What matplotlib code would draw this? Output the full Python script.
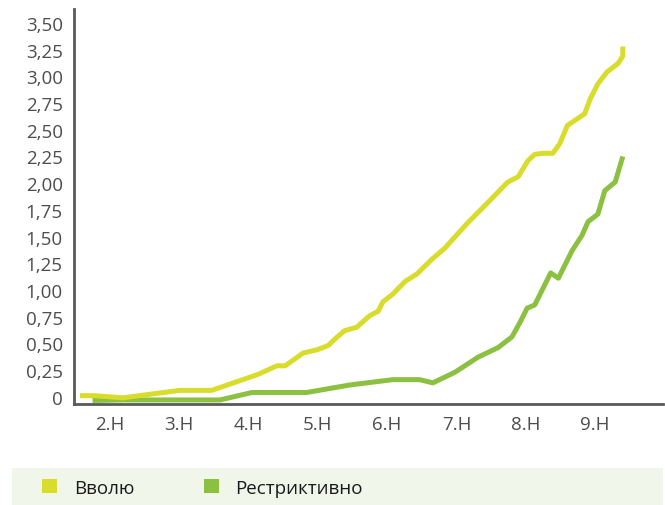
import matplotlib
matplotlib.use("Agg")
import matplotlib.pyplot as plt
from matplotlib.patches import Rectangle, Patch

plt.rcParams['font.family'] = ['Open Sans', 'DejaVu Sans']

# (x in "week" units, 2 = 2.Н)
vvolju_x = [1.57, 1.78, 2.19, 3.01, 3.47, 4.14, 4.41, 4.53, 4.79, 4.99, 5.15, 5.28,
            5.39, 5.56, 5.75, 5.87, 5.94, 6.08, 6.26, 6.43, 6.65, 6.83, 7.15, 7.44,
            7.74, 7.89, 8.03, 8.13, 8.25, 8.39, 8.49, 8.60, 8.85, 8.93, 9.04, 9.17,
            9.33, 9.40, 9.40]
vvolju_y = [0.01, 0.01, -0.01, 0.06, 0.06, 0.21, 0.29, 0.29, 0.41, 0.44, 0.48, 0.56,
            0.62, 0.65, 0.76, 0.80, 0.89, 0.96, 1.08, 1.15, 1.29, 1.39, 1.62, 1.81,
            2.01, 2.06, 2.21, 2.27, 2.28, 2.28, 2.37, 2.54, 2.65, 2.79, 2.93, 3.04,
            3.12, 3.19, 3.28]

restr_x = [1.75, 2.19, 3.59, 4.05, 4.84, 5.46, 6.08, 6.47, 6.66, 6.98, 7.31, 7.60,
           7.80, 7.92, 8.02, 8.13, 8.36, 8.47, 8.67, 8.81, 8.90, 9.04, 9.14, 9.29, 9.40]
restr_y = [-0.035, -0.03, -0.03, 0.04, 0.04, 0.11, 0.16, 0.16, 0.13, 0.23, 0.37, 0.46,
           0.56, 0.70, 0.83, 0.86, 1.16, 1.11, 1.37, 1.51, 1.64, 1.71, 1.93, 2.01, 2.25]

x_ticks = [2, 3, 4, 5, 6, 7, 8, 9]
x_labels = ['2.Н', '3.Н', '4.Н', '5.Н', '6.Н', '7.Н', '8.Н', '9.Н']
y_ticks = [0, 0.25, 0.5, 0.75, 1.0, 1.25, 1.5, 1.75, 2.0, 2.25, 2.5, 2.75, 3.0, 3.25, 3.5]
y_labels = ['0', '0,25', '0,50', '0,75', '1,00', '1,25', '1,50', '1,75', '2,00',
            '2,25', '2,50', '2,75', '3,00', '3,25', '3,50']

yellow = '#d8dc2b'
green = '#8cc041'
grey = '#4d4d4d'

fig = plt.figure(figsize=(6.65, 5.06), dpi=100)
ax = fig.add_axes([0.111, 0.2, 0.886, 0.78])

ax.plot(vvolju_x, vvolju_y, color=yellow, lw=3.6, solid_capstyle='butt', zorder=3)
ax.plot(restr_x, restr_y, color=green, lw=3.6, solid_capstyle='butt', zorder=2)

ax.set_xlim(1.48, 9.98)
ax.set_ylim(-0.066, 3.63)
ax.set_xticks(x_ticks)
ax.set_xticklabels(x_labels)
ax.set_yticks(y_ticks)
ax.set_yticklabels(y_labels)
ax.tick_params(length=0, labelsize=13.5, labelcolor=grey)
ax.tick_params(axis='y', pad=8)
ax.tick_params(axis='x', pad=8)
for s in ['top', 'right']:
    ax.spines[s].set_visible(False)
for s in ['left', 'bottom']:
    ax.spines[s].set_color('#5a5a5a')
    ax.spines[s].set_linewidth(2)

# legend strip
fig.add_artist(Rectangle((12 / 665, 0), 651 / 665, 37 / 506, transform=fig.transFigure,
                         facecolor='#f1f6ea', edgecolor='none', zorder=0))
handles = [Patch(facecolor=yellow, label='Вволю'), Patch(facecolor=green, label='Рестриктивно')]
fig.legend(handles=handles, loc='center left', bbox_to_anchor=(0.052, 0.034), ncol=2,
           frameon=False, fontsize=13.5, handlelength=0.8, handleheight=0.8,
           handletextpad=0.9, columnspacing=3.7, borderaxespad=0, labelcolor='#1a1a1a')

fig.savefig('out.png', dpi=100)
